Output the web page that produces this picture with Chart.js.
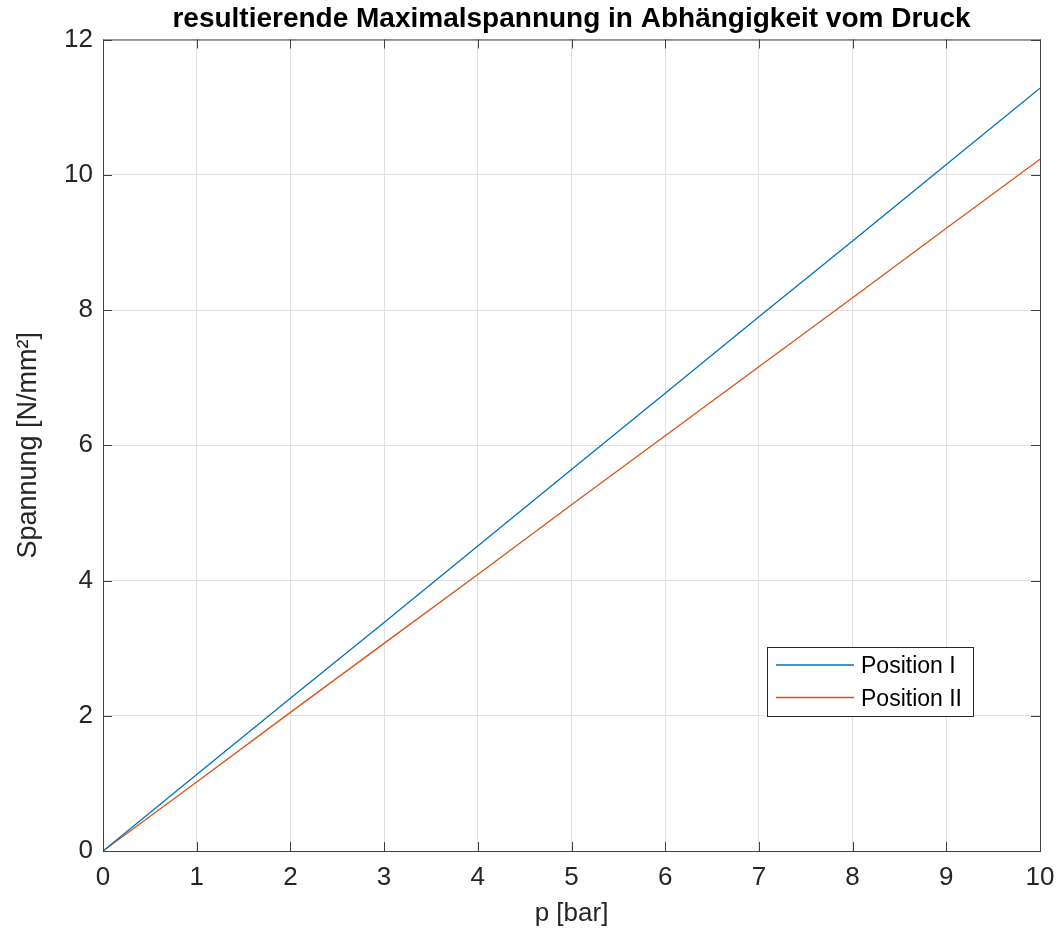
<!DOCTYPE html>
<html>
<head>
<meta charset="utf-8">
<script src="https://cdn.jsdelivr.net/npm/chart.js@4.4.0/dist/chart.umd.min.js"></script>
<style>
  body { margin: 0; background: #fff; }
  canvas { display: block; }
</style>
</head>
<body>
<canvas id="chart" width="1059" height="933"></canvas>
<script>
const pressure = [0, 1, 2, 3, 4, 5, 6, 7, 8, 9, 10];
const positionI = [0, 1.13, 2.26, 3.38, 4.51, 5.64, 6.77, 7.90, 9.02, 10.15, 11.28];
const positionII = [0, 1.02, 2.05, 3.07, 4.09, 5.12, 6.14, 7.16, 8.18, 9.21, 10.23];
const seriesNames = ['Position I', 'Position II'];
const xTicks = [0, 1, 2, 3, 4, 5, 6, 7, 8, 9, 10];
const yTicks = [0, 2, 4, 6, 8, 10, 12];

const FONT = '"Liberation Sans", Arial, Helvetica, sans-serif';
const axisColor = '#404040';

// box around the plot area with inward ticks like matlab
const boxPlugin = {
    id: 'box',
    afterDatasetsDraw(chart) {
        const ctx = chart.ctx;
        const a = chart.chartArea;
        const xs = chart.scales.x, ys = chart.scales.y;
        ctx.save();
        ctx.strokeStyle = axisColor;
        ctx.lineWidth = 1;
        ctx.strokeRect(a.left + 0.5, a.top + 0.5, a.right - a.left, a.bottom - a.top);
        ctx.beginPath();
        xTicks.forEach(v => {
            const px = Math.round(xs.getPixelForValue(v)) + 0.5;
            ctx.moveTo(px, a.bottom); ctx.lineTo(px, a.bottom - 9);
            ctx.moveTo(px, a.top); ctx.lineTo(px, a.top + 9);
        });
        yTicks.forEach(v => {
            const py = Math.round(ys.getPixelForValue(v)) + 0.5;
            ctx.moveTo(a.left, py); ctx.lineTo(a.left + 9, py);
            ctx.moveTo(a.right, py); ctx.lineTo(a.right - 9, py);
        });
        ctx.stroke();
        ctx.restore();
    }
};

// legend box inside the plot, lower right
const legendPlugin = {
    id: 'boxLegend',
    afterDraw(chart) {
        const ctx = chart.ctx;
        const x0 = 767, y0 = 647, w = 206, h = 69;
        ctx.save();
        ctx.fillStyle = '#fff';
        ctx.fillRect(x0, y0, w, h);
        ctx.strokeStyle = '#262626';
        ctx.lineWidth = 1;
        ctx.strokeRect(x0 + 0.5, y0 + 0.5, w, h);
        ctx.font = '23px ' + FONT;
        ctx.textBaseline = 'middle';
        chart.data.datasets.forEach((ds, i) => {
            const y = y0 + 18 + i * 32.5;
            ctx.strokeStyle = ds.borderColor;
            ctx.lineWidth = 1.3;
            ctx.beginPath();
            ctx.moveTo(x0 + 9, y); ctx.lineTo(x0 + 87, y);
            ctx.stroke();
            ctx.fillStyle = '#000';
            ctx.fillText(ds.label, x0 + 94, y + 2);
        });
        ctx.restore();
    }
};

const ctx = document.getElementById('chart').getContext('2d');
new Chart(ctx, {
    type: 'line',
    data: {
        labels: pressure,
        datasets: [{
            label: seriesNames[0],
            data: pressure.map((p, i) => ({ x: p, y: positionI[i] })),
            borderColor: '#0072BD',
            borderWidth: 1.3,
            pointRadius: 0,
            tension: 0
        }, {
            label: seriesNames[1],
            data: pressure.map((p, i) => ({ x: p, y: positionII[i] })),
            borderColor: '#D95319',
            borderWidth: 1.3,
            pointRadius: 0,
            tension: 0
        }]
    },
    options: {
        responsive: false,
        animation: false,
        layout: { padding: { left: 0, right: 19, top: 0, bottom: 0 } },
        plugins: {
            legend: { display: false },
            tooltip: { enabled: false },
            title: {
                display: true,
                fullSize: false,
                text: 'resultierende Maximalspannung in Abhängigkeit vom Druck',
                color: '#000',
                font: { family: FONT, size: 28, weight: 'bold' },
                padding: { top: 2, bottom: 3.9 }
            }
        },
        scales: {
            x: {
                type: 'linear',
                min: 0,
                max: 10,
                afterBuildTicks: s => { s.ticks = xTicks.map(v => ({ value: v })); },
                afterFit: s => { s.height = 82; s.paddingRight = 0; s.paddingLeft = 0; },
                grid: { color: '#e0e0e0', drawTicks: false },
                border: { display: false },
                ticks: {
                    color: '#262626',
                    font: { family: FONT, size: 26 },
                    padding: 11,
                    maxRotation: 0
                },
                title: {
                    display: true,
                    text: 'p [bar]',
                    color: '#262626',
                    font: { family: FONT, size: 26 },
                    padding: { top: 0, bottom: 4 }
                }
            },
            y: {
                type: 'linear',
                min: 0,
                max: 12,
                afterBuildTicks: s => { s.ticks = yTicks.map(v => ({ value: v })); },
                afterFit: s => { s.width = 103; s.paddingTop = 0; s.paddingBottom = 0; },
                grid: { color: '#e0e0e0', drawTicks: false },
                border: { display: false },
                ticks: {
                    color: '#262626',
                    font: { family: FONT, size: 26 },
                    padding: 10
                },
                title: {
                    display: true,
                    text: 'Spannung [N/mm²]',
                    color: '#262626',
                    font: { family: FONT, size: 27 },
                    padding: { top: 12, bottom: 0 }
                }
            }
        }
    },
    plugins: [boxPlugin, legendPlugin]
});
</script>
</body>
</html>
